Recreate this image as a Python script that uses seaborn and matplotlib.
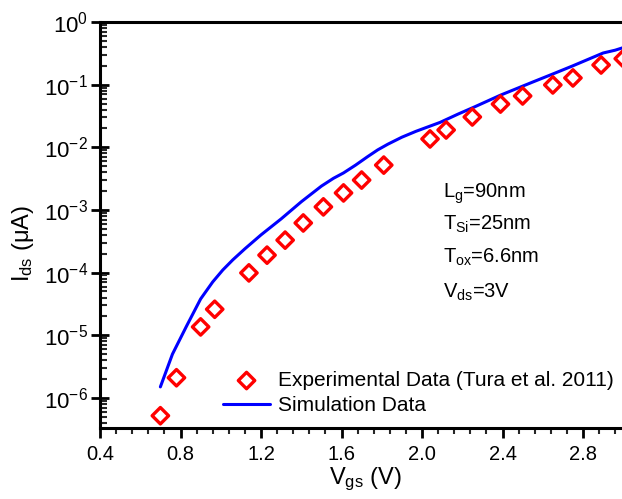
import numpy as np
import pandas as pd
import matplotlib
matplotlib.use("Agg")
import matplotlib.pyplot as plt
import seaborn as sns
from matplotlib.ticker import LogLocator, FixedLocator, MultipleLocator, FormatStrFormatter, NullFormatter

# ---- data ----
vgs_exp = [0.70, 0.78, 0.90, 0.97, 1.14, 1.23, 1.32, 1.41, 1.51, 1.61, 1.70, 1.81,
           2.04, 2.12, 2.25, 2.39, 2.50, 2.65, 2.75, 2.89, 3.00]
ids_exp = [5.2e-7, 2.1e-6, 1.36e-5, 2.6e-5, 9.9e-5, 1.9e-4, 3.3e-4, 6.2e-4, 1.12e-3,
           1.87e-3, 3.0e-3, 5.2e-3, 1.36e-2, 1.89e-2, 3.05e-2, 4.9e-2, 6.6e-2, 9.9e-2,
           0.128, 0.206, 0.26]

vgs_sim = [0.70, 0.76, 0.83, 0.90, 0.96, 1.01, 1.06, 1.12, 1.20, 1.30, 1.40, 1.50,
           1.56, 1.61, 1.67, 1.73, 1.78, 1.83, 1.90, 1.97, 2.09, 2.18, 2.26, 2.39,
           2.55, 2.65, 2.75, 2.83, 2.90, 2.96, 3.00, 3.10]
ids_sim = [1.5e-6, 5.0e-6, 1.4e-5, 3.8e-5, 7.1e-5, 1.1e-4, 1.6e-4, 2.4e-4, 4.0e-4,
           7.2e-4, 1.35e-3, 2.4e-3, 3.2e-3, 3.9e-3, 5.2e-3, 7.1e-3, 9.1e-3, 1.12e-2,
           1.45e-2, 1.8e-2, 2.5e-2, 3.4e-2, 4.4e-2, 6.8e-2, 0.11, 0.148, 0.20, 0.257,
           0.32, 0.355, 0.39, 0.46]

x_ticks = [0.4, 0.8, 1.2, 1.6, 2.0, 2.4, 2.8]
labels_exp = "Experimental Data (Tura et al. 2011)"
labels_sim = "Simulation Data"
annotations = [r"L$_g$=90nm", r"T$_{Si}$=25nm", r"T$_{ox}$=6.6nm", r"V$_{ds}$=3V"]

df_exp = pd.DataFrame({"Vgs": vgs_exp, "Ids": ids_exp})
df_sim = pd.DataFrame({"Vgs": vgs_sim, "Ids": ids_sim})

# ---- style ----
sns.set_theme(style="ticks")
plt.rcParams["font.family"] = ["Liberation Sans", "DejaVu Sans"]
plt.rcParams["mathtext.fontset"] = "custom"
plt.rcParams["mathtext.rm"] = "Liberation Sans"
plt.rcParams["mathtext.it"] = "Liberation Sans"
plt.rcParams["mathtext.default"] = "regular"

W, H = 622, 499
fig = plt.figure(figsize=(W / 100, H / 100), dpi=100)
px_per_v = 201.25
x0, x1 = 0.4, 3.04
left_px, top_px, bottom_px = 100, 22, 428
ax_w_px = (x1 - x0) * px_per_v
ax_h_px = bottom_px - top_px
ax = fig.add_axes([left_px / W, 1 - bottom_px / H, ax_w_px / W, ax_h_px / H])

sns.scatterplot(data=df_exp, x="Vgs", y="Ids", ax=ax, marker="D", s=70,
                color="#ff0000", facecolor="none", edgecolor="#ff0000",
                linewidth=2.4, label=labels_exp, zorder=3)
sns.lineplot(data=df_sim, x="Vgs", y="Ids", ax=ax, color="#0000ff",
             linewidth=2.2, label=labels_sim, zorder=2, sort=True)

ax.set_yscale("log")
ax.set_xlim(x0, x1)
ax.set_ylim(10 ** -6.48, 1.0)

ax.xaxis.set_major_locator(FixedLocator(x_ticks))
ax.xaxis.set_major_formatter(FormatStrFormatter("%.1f"))
ax.xaxis.set_minor_locator(MultipleLocator(0.08))
ax.yaxis.set_major_locator(LogLocator(base=10, numticks=20))
ax.yaxis.set_minor_locator(LogLocator(base=10, subs=np.arange(2, 10), numticks=20))
ax.yaxis.set_minor_formatter(NullFormatter())
ax.xaxis.get_offset_text().set_visible(False)
ax.yaxis.get_offset_text().set_visible(False)

for side in ["left", "bottom", "top"]:
    ax.spines[side].set_linewidth(2.2)
    ax.spines[side].set_color("black")
ax.spines["right"].set_visible(False)

ax.tick_params(axis="x", which="major", direction="out", length=7, width=2, labelsize=14.5,
               pad=5, colors="black")
ax.tick_params(axis="x", which="minor", direction="out", length=4, width=1.5)
ax.tick_params(axis="y", which="major", direction="inout", length=13, width=2, labelsize=16,
               pad=2, colors="black")
ax.tick_params(axis="y", which="minor", direction="in", length=5, width=1.5)
ax.tick_params(top=False, right=False, which="both")

ax.set_xlabel(r"V$_{gs}$ (V)", fontsize=17, color="black")
ax.set_ylabel(r"I$_{ds}$ ($\mu$A)", fontsize=17, color="black")
ax.xaxis.set_label_coords((365 - left_px) / ax_w_px, -(484 - bottom_px) / ax_h_px)
ax.xaxis.label.set_va("baseline")
ax.yaxis.set_label_coords(-(left_px - 29) / ax_w_px, (bottom_px - 243) / ax_h_px)
ax.yaxis.label.set_va("baseline")

ax.set_facecolor("white")
fig.patch.set_facecolor("white")

handles, labs = ax.get_legend_handles_labels()
leg = ax.legend(handles, labs, loc="upper left", frameon=False, fontsize=15,
                bbox_to_anchor=(223 / W, 1 - 371 / H), bbox_transform=fig.transFigure,
                borderpad=0, borderaxespad=0, handlelength=2.26, handletextpad=0.38,
                labelspacing=0.28)
for t in leg.get_texts():
    t.set_color("black")

baselines = [198, 230, 263, 298]
for txt, b in zip(annotations, baselines):
    fig.text(443 / W, 1 - b / H, txt, fontsize=14.5, va="baseline", ha="left", color="black")

fig.savefig("out.png", dpi=100, facecolor="white")
